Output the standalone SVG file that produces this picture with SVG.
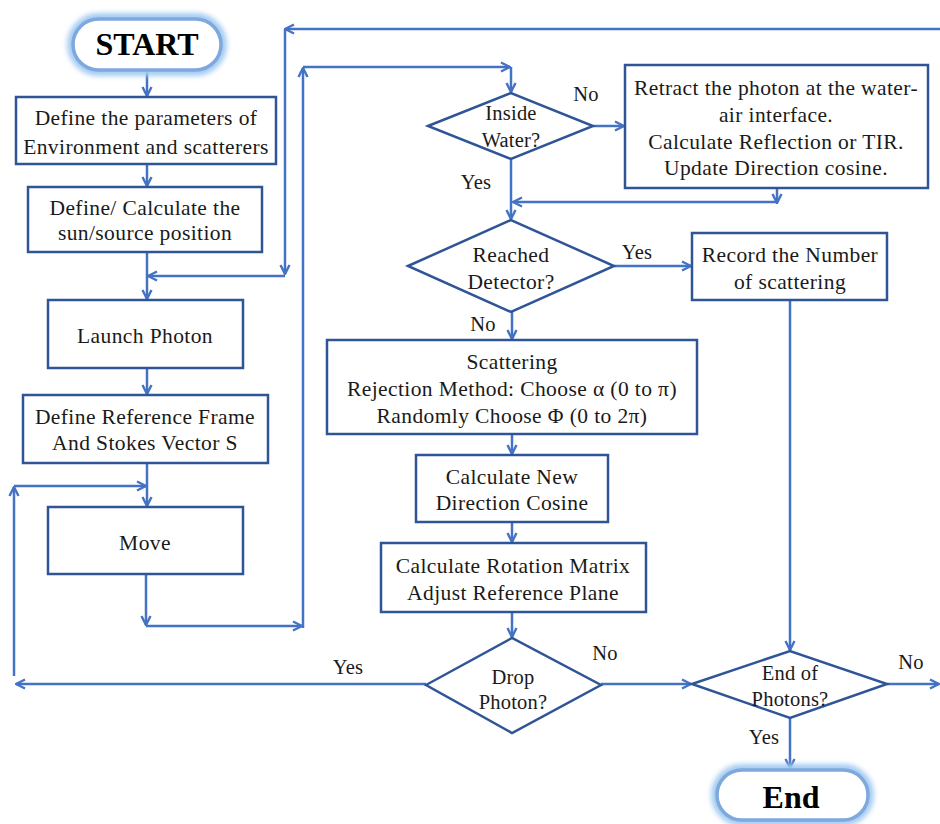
<svg xmlns="http://www.w3.org/2000/svg" width="940" height="824" viewBox="0 0 940 824">
  <style>
    .box { fill: #ffffff; stroke: #2F5597; stroke-width: 2.5; }
    .pill { fill: #ffffff; stroke: #7EA8DE; stroke-width: 3.5; }
    .glow { fill: none; stroke: #A4CCF2; stroke-width: 12; filter: url(#soft); }
    .t { font-family: "Liberation Serif", "Times New Roman", serif; font-size: 21.5px; letter-spacing: 0.4px; fill: #1a1a1a; text-anchor: middle; }
    .lbl { font-family: "Liberation Serif", "Times New Roman", serif; font-size: 20.5px; letter-spacing: 0.2px; fill: #1a1a1a; text-anchor: middle; }
    .big { font-family: "Liberation Serif", "Times New Roman", serif; font-size: 32px; font-weight: bold; fill: #000; text-anchor: middle; }
    .c { fill: none; stroke: #4472C4; stroke-width: 2.5; marker-end: url(#arr); }
  </style>
  <defs>
    <marker id="arr" viewBox="0 0 12 12" refX="11" refY="6" markerWidth="12" markerHeight="12" markerUnits="userSpaceOnUse" orient="auto">
      <path d="M2,1.5 L11,6 L2,10.5" fill="none" stroke="#4472C4" stroke-width="2.4" stroke-linejoin="miter"/>
    </marker>
    <filter id="soft" x="-20%" y="-40%" width="140%" height="180%">
      <feGaussianBlur stdDeviation="2.5"/>
    </filter>
  </defs>

  <rect width="940" height="824" fill="#ffffff"/>

  <!-- connectors -->
  <g id="connectors">
    <line class="c" x1="147" y1="72" x2="147" y2="96"/>
    <line class="c" x1="147" y1="164" x2="147" y2="186"/>
    <line class="c" x1="940" y1="29" x2="285" y2="29"/>
    <line class="c" x1="285" y1="29" x2="285" y2="274"/>
    <line class="c" x1="285" y1="276" x2="148" y2="276"/>
    <line class="c" x1="147" y1="252" x2="147" y2="299"/>
    <line class="c" x1="147" y1="368" x2="147" y2="394"/>
    <line class="c" x1="147" y1="463" x2="147" y2="506"/>
    <line class="c" x1="14" y1="676" x2="14" y2="487"/>
    <line class="c" x1="14" y1="486" x2="146" y2="486"/>
    <line class="c" x1="146" y1="574" x2="146" y2="625"/>
    <line class="c" x1="146" y1="626" x2="302" y2="626"/>
    <line class="c" x1="303" y1="628" x2="303" y2="68"/>
    <line class="c" x1="303" y1="67" x2="510" y2="67"/>
    <line class="c" x1="511" y1="67" x2="511" y2="92"/>
    <line class="c" x1="593" y1="126" x2="624" y2="126"/>
    <line class="c" x1="777" y1="188" x2="777" y2="203"/>
    <line class="c" x1="777" y1="202" x2="513" y2="202"/>
    <line class="c" x1="511" y1="159" x2="511" y2="219"/>
    <line class="c" x1="614" y1="266" x2="691" y2="266"/>
    <line class="c" x1="512" y1="312" x2="512" y2="339"/>
    <line class="c" x1="512" y1="434" x2="512" y2="454"/>
    <line class="c" x1="512" y1="522" x2="512" y2="542"/>
    <line class="c" x1="512" y1="612" x2="512" y2="637"/>
    <line class="c" x1="426" y1="684" x2="16" y2="684"/>
    <line class="c" x1="601" y1="684" x2="691" y2="684"/>
    <line class="c" x1="790" y1="300" x2="790" y2="650"/>
    <line class="c" x1="887" y1="684" x2="939" y2="684"/>
    <line class="c" x1="790" y1="718" x2="790" y2="768"/>
  </g>

  <!-- branch labels -->
  <g id="labels">
    <text class="lbl" x="586" y="101">No</text>
    <text class="lbl" x="476" y="189">Yes</text>
    <text class="lbl" x="637" y="259">Yes</text>
    <text class="lbl" x="483" y="331">No</text>
    <text class="lbl" x="348" y="674">Yes</text>
    <text class="lbl" x="605" y="660">No</text>
    <text class="lbl" x="911" y="669">No</text>
    <text class="lbl" x="764" y="744">Yes</text>
  </g>

  <g id="start">
    <rect class="glow" x="73" y="19" width="148" height="51" rx="25.5"/>
    <rect class="pill" x="73" y="19" width="148" height="51" rx="25.5"/>
    <text class="big" x="147" y="55">START</text>
  </g>

  <g id="define-params">
    <rect class="box" x="16" y="97" width="260" height="67"/>
    <text class="t" x="146" y="125">Define the parameters of</text>
    <text class="t" x="146" y="154">Environment and scatterers</text>
  </g>

  <g id="source-position">
    <rect class="box" x="28" y="187" width="234" height="65"/>
    <text class="t" x="145" y="215">Define/ Calculate the</text>
    <text class="t" x="145" y="240">sun/source position</text>
  </g>

  <g id="launch">
    <rect class="box" x="48" y="300" width="195" height="68"/>
    <text class="t" x="145" y="343">Launch Photon</text>
  </g>

  <g id="reference-frame">
    <rect class="box" x="23" y="395" width="245" height="68"/>
    <text class="t" x="145" y="424">Define Reference Frame</text>
    <text class="t" x="145" y="450">And Stokes Vector S</text>
  </g>

  <g id="move">
    <rect class="box" x="48" y="507" width="195" height="67"/>
    <text class="t" x="145" y="550">Move</text>
  </g>

  <g id="inside-water">
    <polygon class="box" points="428,126 511,93 593,126 511,159"/>
    <text class="lbl" x="511" y="120">Inside</text>
    <text class="lbl" x="511" y="147">Water?</text>
  </g>

  <g id="retract">
    <rect class="box" x="625" y="65" width="303" height="123"/>
    <text class="t" x="776" y="95">Retract the photon at the water-</text>
    <text class="t" x="776" y="122">air interface.</text>
    <text class="t" x="776" y="149">Calculate Reflection or TIR.</text>
    <text class="t" x="776" y="175">Update Direction cosine.</text>
  </g>

  <g id="reached-detector">
    <polygon class="box" points="408,266 511,220 614,266 511,312"/>
    <text class="t" x="511" y="262">Reached</text>
    <text class="t" x="511" y="289">Detector?</text>
  </g>

  <g id="record">
    <rect class="box" x="692" y="233" width="195" height="67"/>
    <text class="t" x="790" y="262">Record the Number</text>
    <text class="t" x="790" y="289">of scattering</text>
  </g>

  <g id="scattering">
    <rect class="box" x="327" y="340" width="370" height="94"/>
    <text class="t" x="512" y="369">Scattering</text>
    <text class="t" x="512" y="396">Rejection Method: Choose α (0 to π)</text>
    <text class="t" x="512" y="423">Randomly Choose Φ (0 to 2π)</text>
  </g>

  <g id="new-direction">
    <rect class="box" x="416" y="455" width="192" height="67"/>
    <text class="t" x="512" y="484">Calculate New</text>
    <text class="t" x="512" y="510">Direction Cosine</text>
  </g>

  <g id="rotation">
    <rect class="box" x="381" y="543" width="265" height="69"/>
    <text class="t" x="513" y="573">Calculate Rotation Matrix</text>
    <text class="t" x="513" y="600">Adjust Reference Plane</text>
  </g>

  <g id="drop-photon">
    <polygon class="box" points="426,685 512,638 601,685 512,733"/>
    <text class="lbl" x="513" y="684">Drop</text>
    <text class="lbl" x="513" y="709">Photon?</text>
  </g>

  <g id="end-of-photons">
    <polygon class="box" points="692,684 790,651 887,684 790,718"/>
    <text class="lbl" x="790" y="680">End of</text>
    <text class="lbl" x="790" y="706">Photons?</text>
  </g>

  <g id="end">
    <rect class="glow" x="717" y="770" width="151" height="50" rx="25"/>
    <rect class="pill" x="717" y="770" width="151" height="50" rx="25"/>
    <text class="big" x="791" y="808">End</text>
  </g>
</svg>
